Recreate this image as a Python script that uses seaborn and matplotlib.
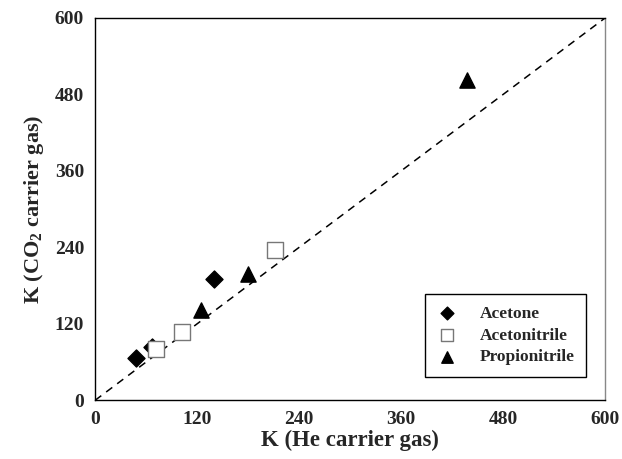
import matplotlib
matplotlib.use("Agg")
import matplotlib.pyplot as plt
import seaborn as sns
import pandas as pd

# Data
acetone_he = [48, 67, 140]
acetone_co2 = [66, 84, 190]
acetonitrile_he = [71, 102, 211]
acetonitrile_co2 = [80, 107, 235]
propionitrile_he = [124, 180, 437]
propionitrile_co2 = [141, 198, 502]
ticks = [0, 120, 240, 360, 480, 600]

sns.set_style("white")
plt.rcParams['font.family'] = ['Liberation Serif', 'DejaVu Serif']
plt.rcParams['font.weight'] = 'bold'
plt.rcParams['mathtext.fontset'] = 'custom'
plt.rcParams['mathtext.rm'] = 'Liberation Serif:bold'
plt.rcParams['mathtext.it'] = 'Liberation Serif:bold'
plt.rcParams['mathtext.bf'] = 'Liberation Serif:bold'

fig = plt.figure(figsize=(6.22, 4.59), dpi=100)
ax = fig.add_axes([0.153, 0.128, 0.820, 0.833])

series = [
    ('Acetone', acetone_he, acetone_co2, 'D', 75, 'black', 'black'),
    ('Acetonitrile', acetonitrile_he, acetonitrile_co2, 's', 120, 'white', '#777777'),
    ('Propionitrile', propionitrile_he, propionitrile_co2, '^', 120, 'black', 'black'),
]
for name, xs, ys, mk, size, fc, ec in series:
    df = pd.DataFrame({'he': xs, 'co2': ys})
    sns.scatterplot(data=df, x='he', y='co2', marker=mk, s=size, color=fc,
                    edgecolor=ec, linewidth=1.0, label=name, ax=ax, zorder=3)

ax.axline((0, 0), slope=1, color='black', linestyle=(0, (5, 4)), linewidth=1.1, zorder=2)

ax.set_xlim(0, 600)
ax.set_ylim(0, 600)
ax.set_xticks(ticks)
ax.set_yticks(ticks)
ax.tick_params(axis='both', direction='in', length=5, width=1, labelsize=14, pad=8,
               color='black')
for lab in ax.get_xticklabels() + ax.get_yticklabels():
    lab.set_fontweight('bold')
for sp in ax.spines.values():
    sp.set_color('black')
    sp.set_linewidth(1.0)
ax.spines['right'].set_color('#888888')

ax.set_xlabel('K (He carrier gas)', fontsize=16.5, fontweight='bold', labelpad=1)
ax.set_ylabel('K (CO$_2$ carrier gas)', fontsize=16, fontweight='bold', labelpad=6)

leg = ax.legend(loc='lower right', bbox_to_anchor=(0.962, 0.062), frameon=True,
                fancybox=False, edgecolor='black', framealpha=1,
                prop={'family': 'Liberation Serif', 'weight': 'bold', 'size': 12.5},
                markerscale=0.75, handlelength=1.2, handletextpad=1.3,
                borderpad=0.65, labelspacing=0.32, borderaxespad=0)
leg.get_frame().set_linewidth(1.0)

fig.savefig('out.png', dpi=100)
